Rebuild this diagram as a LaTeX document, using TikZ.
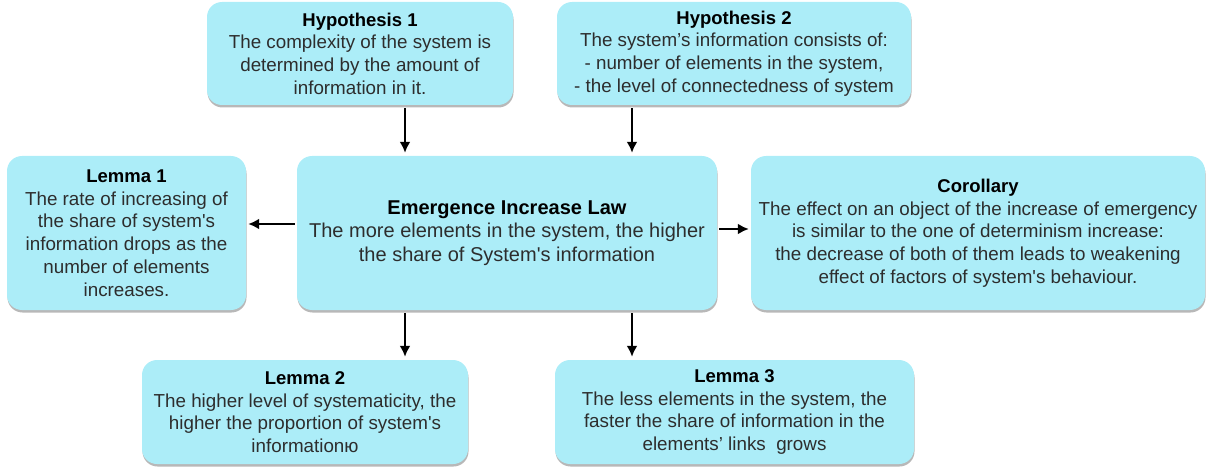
\documentclass[tikz,border=0pt]{standalone}
\usepackage{fontspec}
\setmainfont{Liberation Sans}
\usetikzlibrary{arrows.meta,shadows}
\definecolor{boxfill}{RGB}{172,237,248}
\definecolor{bodytext}{RGB}{45,45,45}
\tikzset{
  card/.style={draw=none, fill=boxfill, rounded corners=15pt, inner sep=0pt,
    align=center, text=bodytext, font=\fontsize{18.8}{22.7}\selectfont,
    drop shadow={shadow xshift=0.5pt, shadow yshift=-2.5pt, opacity=0.28, fill=black}},
  bigcard/.style={card, font=\fontsize{20}{23.6}\selectfont},
  arr/.style={line width=2.2pt, -{Latex[length=11pt,width=11pt]}}
}
\newcommand{\ttl}[1]{\textcolor{black}{\fontsize{18.5}{22.7}\selectfont\textbf{#1}}}
\newcommand{\bigttl}[1]{\textcolor{black}{\fontsize{20}{23.6}\selectfont\textbf{#1}}}
\begin{document}
\begin{tikzpicture}[x=1pt,y=-1pt]
\useasboundingbox (0,0) rectangle (1211,468);
\node[card, minimum width=306pt, minimum height=103pt] (hyp1) at (360,53.5)
  {\ttl{Hypothesis 1}\\The complexity of the system is\\determined by the amount of\\information in it.};
\node[card, minimum width=354pt, minimum height=103pt] (hyp2) at (734,53.5)
  {\ttl{Hypothesis 2}\\The system’s information consists of:\\- number of elements in the system,\\- the level of connectedness of system};
\node[card, minimum width=239pt, minimum height=154pt] (lem1) at (126.5,233)
  {\ttl{Lemma 1}\\The rate of increasing of\\the share of system\textquotesingle s\\information drops as the\\number of elements\\increases.};
\node[bigcard, minimum width=420pt, minimum height=154pt] (law) at (507,233)
  {\bigttl{Emergence Increase Law}\\The more elements in the system, the higher\\the share of System\textquotesingle s information};
\node[card, minimum width=454pt, minimum height=154pt] (cor) at (978,233)
  {\ttl{Corollary}\\The effect on an object of the increase of emergency\\is similar to the one of determinism increase:\\the decrease of both of them leads to weakening\\effect of factors of system\textquotesingle s behaviour.};
\node[card, minimum width=326pt, minimum height=104pt] (lem2) at (305,412)
  {\ttl{Lemma 2}\\The higher level of systematicity, the\\higher the proportion of system\textquotesingle s\\informationю};
\node[card, minimum width=359pt, minimum height=104pt] (lem3) at (734.5,412)
  {\ttl{Lemma 3}\\The less elements in the system, the\\faster the share of information in the\\elements’ links~ grows};
\coordinate (xa) at (405,0);
\coordinate (xb) at (632,0);
\coordinate (ya) at (0,224);
\coordinate (yb) at (0,229);
\draw[arr] ([yshift=-3pt]xa |- hyp1.south) -- ([yshift=3pt]xa |- law.north);
\draw[arr] ([yshift=-3pt]xb |- hyp2.south) -- ([yshift=3pt]xb |- law.north);
\draw[arr] ([xshift=-2pt]law.west |- ya) -- ([xshift=2pt]lem1.east |- ya);
\draw[arr] ([xshift=2pt]law.east |- yb) -- ([xshift=-2pt]cor.west |- yb);
\draw[arr] ([yshift=-3pt]xa |- law.south) -- ([yshift=3pt]xa |- lem2.north);
\draw[arr] ([yshift=-3pt]xb |- law.south) -- ([yshift=3pt]xb |- lem3.north);
\end{tikzpicture}
\end{document}
